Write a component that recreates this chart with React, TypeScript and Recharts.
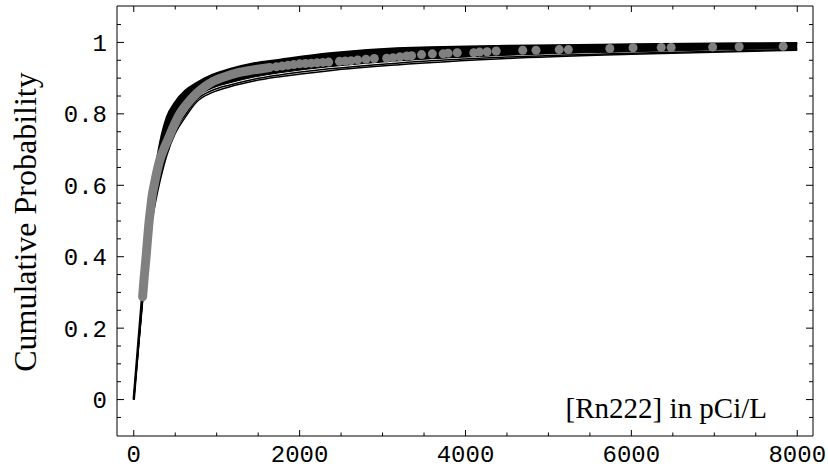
import { ComposedChart, Line, Area, Scatter, XAxis, YAxis, ReferenceLine } from "recharts";

// x positions (pCi/L) where the fitted CDF band was read
const CURVE_X = [0, 105, 150, 200, 260, 320, 400, 500, 620, 760, 950, 1160, 1450, 1760, 2360, 3170, 4500, 6000, 8000];
const CURVE_UPPER = [0, 0.3, 0.43, 0.54, 0.64, 0.72, 0.79, 0.832, 0.864, 0.886, 0.909, 0.925, 0.941, 0.951, 0.969, 0.983, 0.99, 0.994, 0.998];
const CURVE_MID = [0, 0.28, 0.4, 0.5, 0.575, 0.64, 0.705, 0.762, 0.806, 0.846, 0.872, 0.887, 0.903, 0.915, 0.932, 0.948, 0.964, 0.974, 0.983];
const CURVE_LOW2 = [0, 0.275, 0.39, 0.49, 0.56, 0.625, 0.695, 0.753, 0.797, 0.84, 0.866, 0.881, 0.897, 0.909, 0.926, 0.942, 0.959, 0.97, 0.98];
const CURVE_LOW = [0, 0.27, 0.37, 0.47, 0.55, 0.615, 0.685, 0.745, 0.79, 0.834, 0.86, 0.876, 0.892, 0.904, 0.921, 0.937, 0.955, 0.967, 0.978];

// observed samples: the dense part reads as a continuous grey stroke
const DENSE_X = [107, 125, 145, 163, 181, 202, 223, 245, 265, 313, 360, 410, 480, 555, 650, 756, 860, 956, 1100, 1238, 1440, 1640];
const DENSE_Y = [0.288, 0.34, 0.39, 0.44, 0.489, 0.533, 0.573, 0.6, 0.623, 0.67, 0.7, 0.727, 0.765, 0.8, 0.83, 0.857, 0.877, 0.891, 0.904, 0.914, 0.923, 0.93];

const DOT_X = [1720, 1790, 1860, 1930, 2000, 2070, 2140, 2210, 2280, 2350, 2480, 2550, 2620, 2700, 2800, 2900, 3050, 3125, 3210, 3290, 3350, 3470, 3600, 3730, 3790, 3900, 4100, 4170, 4260, 4370, 4690, 4850, 5130, 5240, 5740, 6020, 6360, 6480, 6980, 7300, 7830];
const DOT_Y = [0.932, 0.934, 0.936, 0.938, 0.94, 0.941, 0.942, 0.943, 0.944, 0.945, 0.947, 0.948, 0.949, 0.951, 0.953, 0.955, 0.956, 0.957, 0.96, 0.962, 0.963, 0.966, 0.968, 0.968, 0.97, 0.971, 0.971, 0.973, 0.974, 0.976, 0.978, 0.978, 0.98, 0.98, 0.983, 0.985, 0.986, 0.986, 0.987, 0.988, 0.989];

const X_TICKS = [0, 500, 1000, 1500, 2000, 2500, 3000, 3500, 4000, 4500, 5000, 5500, 6000, 6500, 7000, 7500, 8000];
const Y_TICKS = [-0.05, 0, 0.05, 0.1, 0.15, 0.2, 0.25, 0.3, 0.35, 0.4, 0.45, 0.5, 0.55, 0.6, 0.65, 0.7, 0.75, 0.8, 0.85, 0.9, 0.95, 1, 1.05];

const X_DOMAIN = [-202, 8190];
const Y_DOMAIN = [-0.102, 1.102];
const PX_PER_X = 696 / (X_DOMAIN[1] - X_DOMAIN[0]);
const PX_PER_Y = 430 / (Y_DOMAIN[1] - Y_DOMAIN[0]);
const MONO = "'Liberation Mono', 'DejaVu Sans Mono', monospace";
const SERIF = "'Liberation Serif', 'DejaVu Serif', serif";

const curves = CURVE_X.map((x, i) => ({
  x,
  band: [CURVE_MID[i], CURVE_UPPER[i]],
  upper: CURVE_UPPER[i],
  low2: CURVE_LOW2[i],
  low: CURVE_LOW[i],
}));
const dense = DENSE_X.map((x, i) => ({ x, y: DENSE_Y[i] }));
const dots = DOT_X.map((x, i) => ({ x, y: DOT_Y[i] }));

const isMajorX = (v: number) => v % 2000 === 0;
const isMajorY = (v: number) => Math.abs(v * 5 - Math.round(v * 5)) < 1e-6;
const fmtY = (v: number) => (Math.abs(v) < 1e-9 ? "0" : v === 1 ? "1" : v.toFixed(1));

function BottomTick({ x, y, payload }: any) {
  const major = isMajorX(payload.value);
  return (
    <g>
      <line x1={x} x2={x} y1={y} y2={y - (major ? 6 : 3.5)} stroke="#000" />
      {major && (
        <text x={x} y={y + 26} textAnchor="middle" fontFamily={MONO} fontSize={24} fill="#000">
          {payload.value}
        </text>
      )}
    </g>
  );
}

function LeftTick({ x, y, payload }: any) {
  const major = isMajorY(payload.value);
  return (
    <g>
      <line x1={x} x2={x + (major ? 7 : 4)} y1={y} y2={y} stroke="#000" />
      {major && (
        <text x={x - 10} y={y} dy="0.36em" textAnchor="end" fontFamily={MONO} fontSize={24} fill="#000">
          {fmtY(payload.value)}
        </text>
      )}
    </g>
  );
}

export default function App() {
  return (
    <div style={{ position: "absolute", left: 0, top: 0, background: "#fff" }}>
      <ComposedChart width={828} height={470} margin={{ top: 6, right: 15, bottom: 0, left: 0 }}>
        <XAxis
          dataKey="x"
          type="number"
          domain={X_DOMAIN}
          allowDataOverflow
          ticks={X_TICKS}
          interval={0}
          height={34}
          tickSize={0}
          tickMargin={0}
          tickLine={false}
          tick={<BottomTick />}
          axisLine={{ stroke: "#000" }}
        />
        <YAxis
          type="number"
          domain={Y_DOMAIN}
          allowDataOverflow
          ticks={Y_TICKS}
          interval={0}
          width={117}
          tickSize={0}
          tickMargin={0}
          tickLine={false}
          tick={<LeftTick />}
          axisLine={{ stroke: "#000" }}
        />
        {/* top and right edges of the frame, with mirrored ticks */}
        <ReferenceLine y={Y_DOMAIN[1]} stroke="#000" strokeWidth={1} ifOverflow="visible" />
        <ReferenceLine x={X_DOMAIN[1]} stroke="#000" strokeWidth={1} ifOverflow="visible" />
        {X_TICKS.map((v) => (
          <ReferenceLine
            key={"tx" + v}
            ifOverflow="visible"
            stroke="#000"
            segment={[
              { x: v, y: Y_DOMAIN[1] },
              { x: v, y: Y_DOMAIN[1] - (isMajorX(v) ? 6 : 3.5) / PX_PER_Y },
            ]}
          />
        ))}
        {Y_TICKS.map((v) => (
          <ReferenceLine
            key={"ty" + v}
            ifOverflow="visible"
            stroke="#000"
            segment={[
              { x: X_DOMAIN[1], y: v },
              { x: X_DOMAIN[1] - (isMajorY(v) ? 7 : 4) / PX_PER_X, y: v },
            ]}
          />
        ))}
        <Area
          data={curves}
          dataKey="band"
          type="monotone"
          stroke="#000"
          strokeWidth={1}
          fill="#000"
          fillOpacity={1}
          isAnimationActive={false}
        />
        <Line data={curves} dataKey="upper" type="monotone" stroke="#000" strokeWidth={2.5} dot={false} isAnimationActive={false} />
        <Line data={curves} dataKey="low2" type="monotone" stroke="#000" strokeWidth={1.5} dot={false} isAnimationActive={false} />
        <Line data={curves} dataKey="low" type="monotone" stroke="#000" strokeWidth={1.5} dot={false} isAnimationActive={false} />
        <Line
          data={dense}
          dataKey="y"
          type="monotone"
          stroke="#808080"
          strokeWidth={9}
          strokeLinecap="round"
          dot={false}
          isAnimationActive={false}
        />
        <Scatter
          data={dots}
          dataKey="y"
          fill="#808080"
          isAnimationActive={false}
          shape={(p: any) => <circle cx={p.cx} cy={p.cy} r={4.5} fill="#808080" />}
        />
      </ComposedChart>
      <svg width={828} height={470} style={{ position: "absolute", left: 0, top: 0, pointerEvents: "none" }}>
        <text
          transform="translate(36,222) rotate(-90)"
          textAnchor="middle"
          fontFamily={SERIF}
          fontSize={32}
          fill="#000"
        >
          Cumulative Probability
        </text>
        <text x={767} y={418} textAnchor="end" fontFamily={SERIF} fontSize={29} fill="#000">
          [Rn222] in pCi/L
        </text>
      </svg>
    </div>
  );
}
